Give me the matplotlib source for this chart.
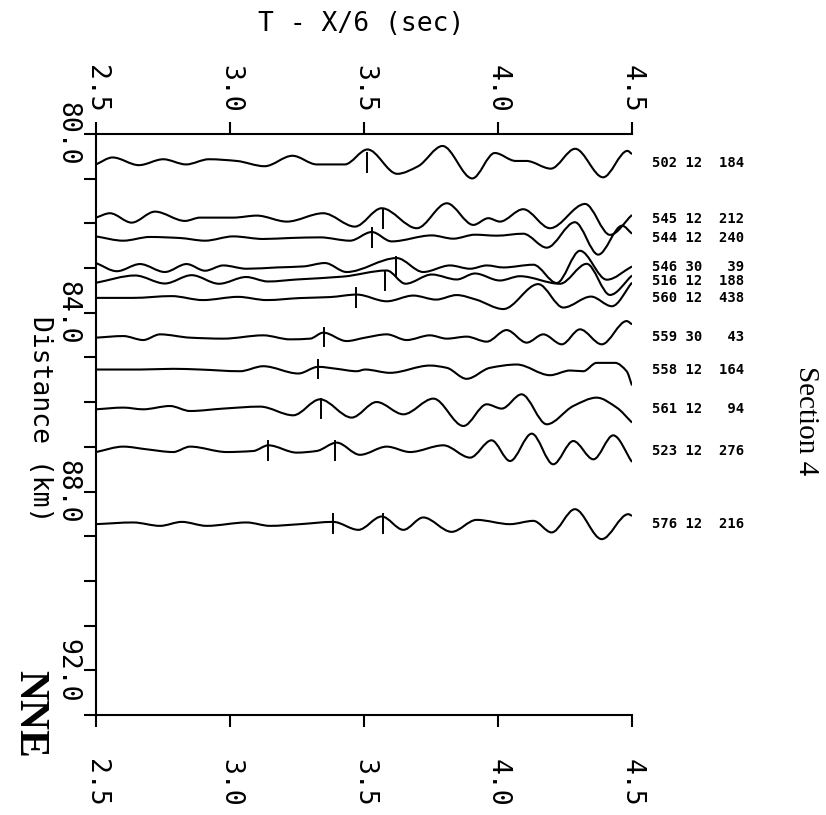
import numpy as np
import matplotlib
matplotlib.use('Agg')
from matplotlib import pyplot as plt
from matplotlib.path import Path
from matplotlib.patches import PathPatch

# station / gain / amplitude labels and trace distances (km)
stations = ['502', '545', '544', '546', '516', '560', '559', '558', '561', '523', '576']
gains = ['12', '12', '12', '30', '12', '12', '30', '12', '12', '12', '12']
amps = ['184', '212', '240', '39', '188', '438', '43', '164', '94', '276', '216']
distances = [80.65, 81.90, 82.32, 82.97, 83.30, 83.66, 84.55, 85.27, 86.16, 87.10, 88.73]
picks = [[3.51], [3.57], [3.53], [3.62], [3.58], [3.47], [3.35], [3.33], [3.34],
         [3.14, 3.39], [3.385, 3.57]]

t_502 = [2.500, 2.562, 2.660, 2.751, 2.836, 2.921, 3.025, 3.129, 3.233, 3.324, 3.428, 3.513,
         3.624, 3.702, 3.793, 3.904, 3.988, 4.066, 4.106, 4.197, 4.288, 4.392, 4.483, 4.500]
a_502 = [-0.03, 0.125, -0.047, 0.085, -0.031, 0.085, 0.047, -0.071, 0.163, -0.031, -0.031, 0.304,
         -0.241, -0.071, 0.382, -0.344, 0.225, 0.047, 0.047, -0.125, 0.319, -0.319, 0.272, 0.20]

t_545 = [2.500, 2.552, 2.633, 2.720, 2.832, 2.888, 3.012, 3.100, 3.212, 3.348, 3.466, 3.566,
         3.697, 3.809, 3.908, 3.964, 4.007, 4.094, 4.194, 4.325, 4.418, 4.500]
a_545 = [0.029, 0.127, -0.083, 0.163, -0.045, 0.029, 0.029, 0.074, -0.060, 0.127, -0.172, 0.239,
         -0.208, 0.350, -0.134, 0.016, -0.060, 0.217, -0.208, 0.335, -0.357, 0.089]

t_544 = [2.500, 2.602, 2.701, 2.813, 2.907, 3.012, 3.124, 3.224, 3.336, 3.448, 3.529, 3.603,
         3.753, 3.833, 3.914, 3.995, 4.094, 4.182, 4.287, 4.374, 4.463, 4.500]
a_544 = [0.029, -0.067, 0.016, -0.007, -0.067, 0.029, -0.029, -0.007, 0.007, -0.067, 0.127, -0.083,
         0.051, -0.022, 0.067, 0.045, 0.089, -0.223, 0.346, -0.379, 0.268, 0.089]

t_546 = [2.500, 2.578, 2.664, 2.757, 2.838, 2.907, 2.975, 3.062, 3.174, 3.274, 3.354, 3.435,
         3.622, 3.721, 3.821, 3.896, 3.958, 4.020, 4.132, 4.219, 4.306, 4.406, 4.500]
a_546 = [0.083, -0.100, 0.060, -0.118, 0.060, -0.089, 0.029, -0.045, -0.016, 0.007, 0.083, -0.118,
         0.194, -0.118, 0.029, -0.045, 0.029, -0.016, 0.045, -0.364, 0.357, -0.290, 0.007]

t_516 = [2.500, 2.646, 2.757, 2.857, 2.959, 3.060, 3.142, 3.249, 3.423, 3.585, 3.655, 3.753,
         3.846, 3.914, 4.007, 4.082, 4.231, 4.331, 4.418, 4.500]
a_516 = [-0.029, 0.134, -0.045, 0.141, -0.051, 0.100, 0.0, 0.045, 0.110, 0.246, -0.050, 0.156,
         0.045, 0.179, 0.022, 0.118, -0.051, 0.395, -0.301, 0.134]

t_560 = [2.500, 2.638, 2.782, 2.899, 3.030, 3.137, 3.261, 3.373, 3.473, 3.585, 3.684, 3.769,
         3.846, 3.918, 4.020, 4.150, 4.244, 4.347, 4.425, 4.500]
a_560 = [-0.007, -0.007, 0.033, -0.056, 0.016, -0.056, -0.011, 0.011, 0.067, -0.083, 0.045, -0.045,
         0.056, -0.045, -0.257, 0.301, -0.223, 0.022, -0.194, 0.335]

t_559 = [2.500, 2.602, 2.676, 2.739, 2.851, 2.975, 3.124, 3.224, 3.299, 3.348, 3.435, 3.504,
         3.585, 3.659, 3.746, 3.809, 3.883, 3.958, 4.032, 4.107, 4.169, 4.238, 4.306, 4.387,
         4.480, 4.500]
a_559 = [-0.007, 0.029, -0.060, 0.067, -0.007, -0.029, 0.045, -0.045, -0.029, 0.105, -0.083, -0.007,
         0.067, -0.060, 0.045, -0.029, 0.016, -0.096, 0.163, -0.118, 0.067, -0.156, 0.179, -0.156,
         0.364, 0.290]

t_558 = [2.500, 2.664, 2.788, 2.888, 3.037, 3.124, 3.255, 3.329, 3.398, 3.473, 3.504, 3.597,
         3.746, 3.809, 3.883, 3.970, 4.070, 4.194, 4.269, 4.318, 4.368, 4.437, 4.480, 4.500]
a_558 = [0.0, 0.0, 0.016, 0.0, -0.038, 0.074, -0.089, 0.060, 0.016, -0.038, 0.0, -0.074,
         0.089, 0.038, -0.208, 0.038, 0.112, -0.127, -0.022, -0.038, 0.149, 0.149, -0.038, -0.357]

t_561 = [2.500, 2.602, 2.676, 2.776, 2.851, 2.975, 3.112, 3.236, 3.336, 3.454, 3.547, 3.647,
         3.759, 3.871, 3.958, 4.014, 4.088, 4.182, 4.281, 4.368, 4.443, 4.500]
a_561 = [0.0, 0.038, 0.0, 0.074, -0.038, 0.016, 0.060, -0.134, 0.223, -0.185, 0.163, -0.112,
         0.239, -0.373, 0.112, 0.016, 0.335, -0.335, 0.074, 0.261, 0.038, -0.297]

t_523 = [2.500, 2.602, 2.689, 2.788, 2.851, 2.988, 3.087, 3.143, 3.249, 3.323, 3.398, 3.485,
         3.585, 3.672, 3.796, 3.896, 3.976, 4.045, 4.126, 4.206, 4.281, 4.356, 4.430, 4.500]
a_523 = [-0.016, 0.105, 0.045, -0.016, 0.105, -0.016, 0.007, 0.134, -0.029, 0.007, 0.194, -0.078,
         0.105, -0.016, 0.134, -0.141, 0.246, -0.217, 0.395, -0.290, 0.230, -0.179, 0.357, -0.239]

t_576 = [2.500, 2.639, 2.739, 2.820, 2.913, 3.062, 3.149, 3.261, 3.385, 3.479, 3.566, 3.647,
         3.721, 3.827, 3.920, 4.045, 4.132, 4.200, 4.287, 4.387, 4.486, 4.500]
a_576 = [0.0, 0.038, -0.038, 0.051, -0.038, 0.038, -0.038, 0.0, 0.051, -0.127, 0.172, -0.127,
         0.150, -0.172, 0.096, 0.0, 0.074, -0.185, 0.335, -0.335, 0.223, 0.185]

traces = [(t_502, a_502), (t_545, a_545), (t_544, a_544), (t_546, a_546), (t_516, a_516),
          (t_560, a_560), (t_559, a_559), (t_558, a_558), (t_561, a_561), (t_523, a_523),
          (t_576, a_576)]

xticks = [2.5, 3.0, 3.5, 4.0, 4.5]
yticks = list(range(80, 94))

mono = 'DejaVu Sans Mono'


def smooth_path(t, y):
    # cubic Hermite through the digitized vertices (flat at local extrema)
    t = np.asarray(t, float)
    y = np.asarray(y, float)
    d = np.diff(y) / np.diff(t)
    m = np.zeros_like(y)
    m[0] = d[0]
    m[-1] = d[-1]
    for i in range(1, len(y) - 1):
        if d[i - 1] * d[i] > 0:
            m[i] = 2.0 / (1.0 / d[i - 1] + 1.0 / d[i])
    verts = [(t[0], y[0])]
    codes = [Path.MOVETO]
    for i in range(len(t) - 1):
        h = t[i + 1] - t[i]
        verts += [(t[i] + h / 3, y[i] + m[i] * h / 3),
                  (t[i + 1] - h / 3, y[i + 1] - m[i + 1] * h / 3),
                  (t[i + 1], y[i + 1])]
        codes += [Path.CURVE4] * 3
    return Path(verts, codes)


fig = plt.figure(figsize=(8.26, 8.15), dpi=100)
ax = fig.add_axes([96 / 826, 1 - 715 / 815, 536 / 826, 581 / 815])

for (t, a), base, pk, sta, g, amp in zip(traces, distances, picks, stations, gains, amps):
    y = base - np.asarray(a)
    ax.add_patch(PathPatch(smooth_path(t, y), fill=False, lw=1.5, color='black'))
    for p in pk:
        ax.plot([p, p], [base - 0.22, base + 0.2], color='black', lw=1.4)
    ax.text(4.575, base, '{} {}{:>5}'.format(sta, g, amp), family=mono, fontsize=10,
            fontweight='bold', ha='left', va='center', clip_on=False)

ax.set_xlim(2.5, 4.5)
ax.set_ylim(93, 80)

ax.set_xticks(xticks)
ax.set_xticklabels(['%.1f' % v for v in xticks], rotation=-90, family=mono, fontsize=19)
ax.set_yticks(yticks)
ax.set_yticklabels(['%.1f' % v if v % 4 == 0 else '' for v in yticks], rotation=-90,
                   family=mono, fontsize=19, va='center')
ax.tick_params(axis='x', direction='out', length=8.6, width=1.5, pad=23)
ax.tick_params(axis='y', direction='out', length=8.6, width=1.5, pad=3)

secax = ax.secondary_xaxis('top')
secax.set_xticks(xticks)
secax.set_xticklabels(['%.1f' % v for v in xticks], rotation=-90, family=mono, fontsize=19)
secax.tick_params(direction='out', length=8.6, width=1.5, pad=7)
secax.spines['top'].set_linewidth(1.5)

ax.spines['right'].set_visible(False)
ax.spines['top'].set_visible(False)
ax.spines['left'].set_linewidth(1.5)
ax.spines['bottom'].set_linewidth(1.5)

fig.text(361 / 826, 1 - 24 / 815, 'T - X/6 (sec)', family=mono, fontsize=19,
         ha='center', va='center')
fig.text(40 / 826, 1 - 419 / 815, 'Distance (km)', family=mono, fontsize=19,
         rotation=-90, ha='center', va='center')
fig.text(29 / 826, 1 - 714 / 815, 'NNE', family='Liberation Serif', fontweight='bold',
         fontsize=30, rotation=-90, ha='center', va='center')
fig.text(806 / 826, 1 - 421 / 815, 'Section 4', family='Liberation Serif', fontsize=21,
         rotation=-90, ha='center', va='center')

fig.savefig('out.png', dpi=100)
